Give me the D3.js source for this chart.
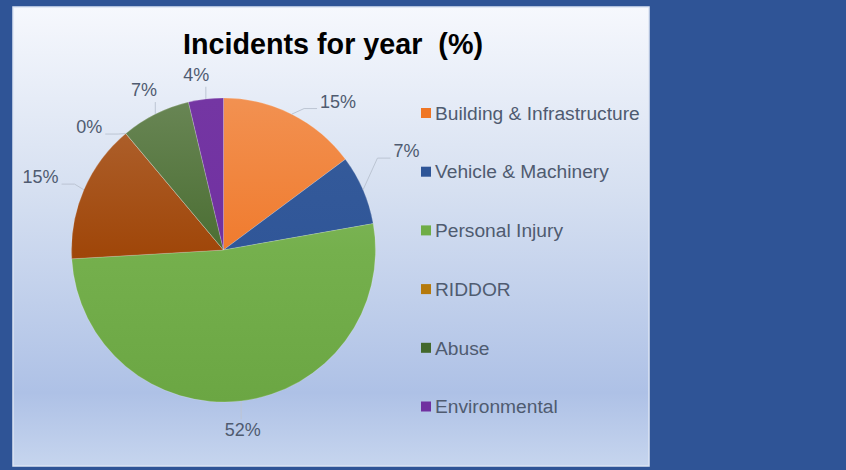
<!DOCTYPE html>
<html>
<head>
<meta charset="utf-8">
<script src="https://cdn.jsdelivr.net/npm/d3@7"></script>
<style>
  html, body { margin: 0; padding: 0; background: #2F5496; }
  svg { display: block; }
  text { font-family: "Liberation Sans", Arial, sans-serif; }
</style>
</head>
<body>
<svg id="chart" width="846" height="470"></svg>
<script>
// Incident counts for the year, by category (clockwise from 12 o'clock)
const categories = ["Building & Infrastructure", "Vehicle & Machinery", "Personal Injury", "Other", "RIDDOR", "Abuse", "Environmental"];
const counts     = [4, 2, 14, 4, 0, 2, 1];
const colors     = ["#EF7625", "#2E5597", "#6FAD46", "#9C3F00", "#B5790C", "#43682B", "#7030A0"];
const inLegend   = [true, true, true, false, true, true, true];
const titleText  = "Incidents for year\u00A0 (%)";

// How much each slice lightens toward the top of the pie
const sheen = [0.2, 0.04, 0.2, 0.2, 0.2, 0.2, 0.03];

// Label nudges (px) from the default polar placement of each data label
const labelNudge = [[32, 16], [14, -26], [-2, -3], [-14, 0], [-16, 18], [3, 4], [-6, 7]];

const svg = d3.select("#chart");
const W = 846, H = 470;

// Background and chart panel
svg.append("rect").attr("width", W).attr("height", H).attr("fill", "#2F5496");
const defs = svg.append("defs");
const panelGrad = defs.append("linearGradient").attr("id", "panelGrad")
  .attr("x1", 0).attr("y1", 0).attr("x2", 0).attr("y2", 1);
[[0, "#F6F8FD"], [0.4, "#D6E0F1"], [0.84, "#AEC1E6"], [1, "#C6D5EE"]].forEach(([o, c]) =>
  panelGrad.append("stop").attr("offset", o).attr("stop-color", c));

const panel = { x: 13, y: 7, w: 636, h: 459 };
svg.append("rect")
  .attr("x", panel.x).attr("y", panel.y).attr("width", panel.w).attr("height", panel.h)
  .attr("fill", "url(#panelGrad)")
  .attr("stroke", "#DCE4F3").attr("stroke-width", 1.5);

// Title
svg.append("text")
  .attr("x", 333).attr("y", 53.5)
  .attr("text-anchor", "middle")
  .attr("font-size", 30).attr("font-weight", "bold").attr("fill", "#000")
  .attr("textLength", 300).attr("lengthAdjust", "spacingAndGlyphs")
  .text(titleText);

// Pie geometry
const cx = 223.5, cy = 250, r = 152;

// Slice gradients: lighter toward the top of the pie
colors.forEach((c, i) => {
  const g = defs.append("linearGradient").attr("id", "slice" + i)
    .attr("gradientUnits", "userSpaceOnUse")
    .attr("x1", 0).attr("y1", -r).attr("x2", 0).attr("y2", r);
  g.append("stop").attr("offset", 0).attr("stop-color", d3.interpolateRgb(c, "#fff")(sheen[i]));
  g.append("stop").attr("offset", 0.5).attr("stop-color", d3.interpolateRgb(c, "#fff")(sheen[i] * 0.2));
  g.append("stop").attr("offset", 1).attr("stop-color", d3.interpolateRgb(c, "#000")(sheen[i] * 0.2));
});

const total = d3.sum(counts);
const data = categories.map((name, i) => ({ name, value: counts[i], i }));
const pie = d3.pie().value(d => d.value).sort(null);
const arcs = pie(data);
const arc = d3.arc().innerRadius(0).outerRadius(r);

const g = svg.append("g").attr("transform", `translate(${cx},${cy})`);
g.selectAll("path.slice").data(arcs).enter().append("path")
  .attr("class", "slice")
  .attr("d", arc)
  .attr("fill", d => `url(#slice${d.data.i})`)
  .attr("stroke", "rgba(255,255,255,0.3)").attr("stroke-width", 0.6);

// Data labels with leader lines
const polar = (a, rad) => [cx + rad * Math.sin(a), cy - rad * Math.cos(a)];
const labelColor = "#4F5B70";
const labelLayer = svg.append("g");
arcs.forEach((d, k) => {
  const mid = (d.startAngle + d.endAngle) / 2;
  const pct = Math.round(d.data.value / total * 100) + "%";
  const [bx, by] = polar(mid, r + 32);
  const tx = bx + labelNudge[k][0], ty = by + labelNudge[k][1];
  const t = labelLayer.append("text")
    .attr("x", tx).attr("y", ty).attr("dy", "0.35em")
    .attr("text-anchor", "middle")
    .attr("font-size", 18).attr("fill", labelColor)
    .text(pct);
  const w = t.node().getComputedTextLength();
  const left = tx - w / 2, right = tx + w / 2;
  const [ax, ay] = polar(mid, r);
  let pts;
  if (ax < left - 2) {
    const end = [left - 3, ty + 7];
    pts = [[ax, ay], [end[0] - 13, end[1]], end];
  } else if (ax > right + 2) {
    const end = [right + 3, ty + 7];
    pts = [[ax, ay], [end[0] + 13, end[1]], end];
  } else if (ay > ty) {
    pts = [[ax, ay], [ax, ty + 12.5]];
  } else {
    pts = [[ax, ay], [ax, ty - 10.5]];
  }
  labelLayer.insert("path", "text")
    .attr("d", d3.line()(pts))
    .attr("fill", "none").attr("stroke", "#BCC5D3").attr("stroke-width", 1);
});

// Legend
const legendItems = data.filter(d => inLegend[d.i]);
const legendY = d3.scalePoint().domain(legendItems.map(d => d.name)).range([113, 406.5]);
const lg = svg.append("g");
legendItems.forEach(d => {
  const y = legendY(d.name);
  lg.append("rect").attr("x", 421).attr("y", y - 5).attr("width", 10).attr("height", 10)
    .attr("fill", colors[d.i]);
  lg.append("text").attr("x", 435).attr("y", y).attr("dy", "0.35em")
    .attr("font-size", 19.2).attr("fill", labelColor)
    .text(d.name);
});
</script>
</body>
</html>
